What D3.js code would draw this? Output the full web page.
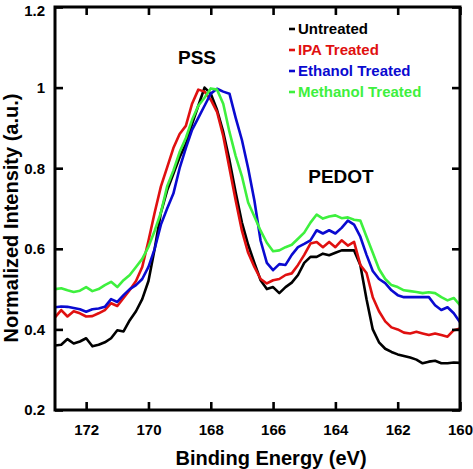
<!DOCTYPE html>
<html>
<head>
<meta charset="utf-8">
<script src="https://cdn.jsdelivr.net/npm/d3@7"></script>
<style>
body{margin:0;background:#fff;}
svg{display:block;font-family:"Liberation Sans",Arial,Helvetica,sans-serif;font-weight:bold;}
</style>
</head>
<body>
<svg id="chart" width="473" height="469"></svg>
<script>
// Binding energy grid (eV), 173 -> 160 in steps of 0.2
const energy = d3.range(0, 66).map(k => +(173 - 0.2 * k).toFixed(1));

const untreated = [0.36,0.362,0.376,0.365,0.37,0.378,0.358,0.362,0.368,0.378,0.398,0.395,0.423,0.445,0.475,0.52,0.6,0.69,0.745,0.786,0.827,0.86,0.91,0.955,1.0,0.985,0.945,0.89,0.82,0.74,0.665,0.61,0.565,0.522,0.5,0.505,0.49,0.505,0.516,0.535,0.565,0.58,0.58,0.588,0.584,0.59,0.596,0.596,0.596,0.56,0.475,0.4,0.368,0.352,0.344,0.338,0.334,0.33,0.325,0.316,0.32,0.322,0.316,0.316,0.318,0.317];
const ipa = [0.43,0.448,0.432,0.445,0.44,0.432,0.433,0.44,0.448,0.465,0.458,0.478,0.498,0.52,0.555,0.62,0.69,0.755,0.802,0.85,0.885,0.905,0.96,0.995,0.99,0.97,0.94,0.88,0.8,0.72,0.645,0.59,0.555,0.525,0.514,0.522,0.525,0.535,0.539,0.56,0.585,0.613,0.617,0.604,0.617,0.604,0.621,0.608,0.617,0.56,0.54,0.48,0.445,0.42,0.405,0.4,0.392,0.39,0.394,0.39,0.386,0.39,0.386,0.382,0.398,0.402];
const ethanol = [0.455,0.457,0.456,0.453,0.45,0.444,0.45,0.452,0.456,0.475,0.468,0.485,0.5,0.51,0.525,0.555,0.6,0.66,0.7,0.737,0.8,0.85,0.895,0.925,0.955,0.985,0.997,0.99,0.985,0.925,0.87,0.8,0.72,0.62,0.565,0.547,0.562,0.56,0.585,0.604,0.612,0.621,0.646,0.638,0.646,0.638,0.652,0.67,0.66,0.63,0.585,0.545,0.525,0.515,0.497,0.485,0.48,0.48,0.48,0.48,0.48,0.46,0.448,0.455,0.44,0.418];
const methanol = [0.5,0.502,0.497,0.493,0.496,0.505,0.495,0.5,0.51,0.518,0.505,0.522,0.535,0.555,0.575,0.605,0.645,0.69,0.755,0.794,0.84,0.875,0.92,0.955,0.975,0.998,0.995,0.96,0.89,0.83,0.78,0.715,0.68,0.645,0.615,0.594,0.596,0.604,0.61,0.625,0.64,0.665,0.685,0.675,0.68,0.683,0.676,0.678,0.672,0.67,0.63,0.59,0.55,0.525,0.51,0.505,0.497,0.495,0.493,0.49,0.492,0.49,0.48,0.472,0.478,0.46];

const seriesNames = ["Untreated","IPA Treated","Ethanol Treated","Methanol Treated"];
const seriesValues = [untreated, ipa, ethanol, methanol];
const seriesColors = ["#000000","#e01010","#0a0ad0","#3ef03e"];

const xTicks = [172,170,168,166,164,162,160];
const yTicks = [0.2,0.4,0.6,0.8,1,1.2];
const yTickLabels = ["0.2","0.4","0.6","0.8","1","1.2"];

const svg = d3.select("#chart");
const L = 55, R = 460, T = 7, B = 410;
const x = d3.scaleLinear().domain([173,160]).range([L,R]);
const y = d3.scaleLinear().domain([0.2,1.2]).range([B,T]);

svg.append("defs").append("clipPath").attr("id","clip")
  .append("rect").attr("x",L).attr("y",T).attr("width",R-L).attr("height",B-T);

// lines
const line = d3.line().x(d => x(d[0])).y(d => y(d[1]));
const g = svg.append("g").attr("clip-path","url(#clip)");
seriesValues.forEach((vals,i) => {
  g.append("path")
    .datum(energy.map((e,k) => [e, vals[k]]))
    .attr("d", line)
    .attr("fill","none")
    .attr("stroke", seriesColors[i])
    .attr("stroke-width", 2.6)
    .attr("stroke-linejoin","round");
});

// axes
const tickLen = 8;
const xAxis = svg.append("g").attr("transform",`translate(0,${B})`)
  .call(d3.axisBottom(x).tickValues(xTicks).tickSizeInner(-tickLen).tickSizeOuter(0).tickPadding(14).tickFormat(d3.format("d")));
const xTop = svg.append("g").attr("transform",`translate(0,${T})`)
  .call(d3.axisTop(x).tickValues(xTicks).tickSizeInner(-tickLen).tickSizeOuter(0).tickFormat(""));
const yAxis = svg.append("g").attr("transform",`translate(${L},0)`)
  .call(d3.axisLeft(y).tickValues(yTicks).tickSizeInner(-tickLen).tickSizeOuter(0).tickPadding(10).tickFormat((d,i) => yTickLabels[i]));
const yRight = svg.append("g").attr("transform",`translate(${R},0)`)
  .call(d3.axisRight(y).tickValues(yTicks).tickSizeInner(-tickLen).tickSizeOuter(0).tickFormat(""));

[xAxis,xTop,yAxis,yRight].forEach(a => {
  a.select(".domain").remove();
  a.selectAll(".tick line").attr("stroke","#000").attr("stroke-width",2.6);
  a.selectAll(".tick text").attr("font-size",15).attr("font-weight","bold")
    .attr("font-family","'Liberation Sans',Arial,sans-serif").attr("fill","#000");
});
// keep the top tick label inside the picture
yAxis.selectAll(".tick text").filter(d => d === 1.2).attr("dy","0.55em");

svg.append("rect").attr("x",L).attr("y",T).attr("width",R-L).attr("height",B-T)
  .attr("fill","none").attr("stroke","#000").attr("stroke-width",3);

// axis titles
svg.append("text").attr("x",271).attr("y",465).attr("text-anchor","middle")
  .attr("font-size",20).text("Binding Energy (eV)");
svg.append("text").attr("transform",`translate(18,218) rotate(-90)`).attr("text-anchor","middle")
  .attr("font-size",20).text("Normalized Intensity (a.u.)");

// annotations
svg.append("text").attr("x",197).attr("y",64).attr("text-anchor","middle").attr("font-size",19).text("PSS");
svg.append("text").attr("x",341).attr("y",183).attr("text-anchor","middle").attr("font-size",19).text("PEDOT");

// legend
const leg = svg.append("g");
seriesNames.forEach((n,i) => {
  const yy = 29 + i*21;
  leg.append("line").attr("x1",289).attr("x2",295).attr("y1",yy).attr("y2",yy)
    .attr("stroke",seriesColors[i]).attr("stroke-width",2.6);
  leg.append("text").attr("x",298).attr("y",yy).attr("dy","0.35em")
    .attr("font-size",15).attr("fill",seriesColors[i]).text(n);
});
</script>
</body>
</html>
